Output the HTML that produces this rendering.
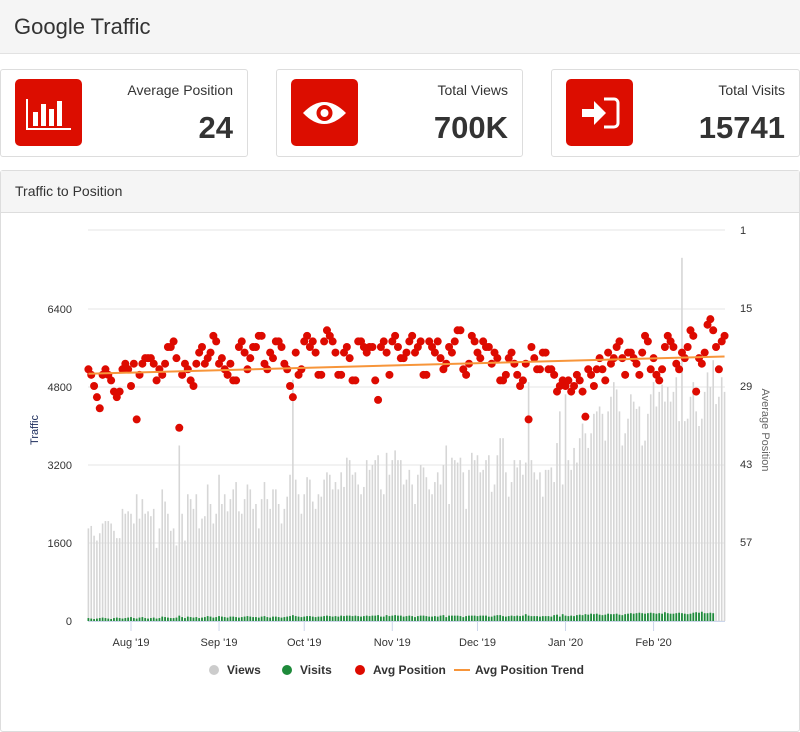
<!DOCTYPE html>
<html><head><meta charset="utf-8"><style>
body{margin:0;width:800px;height:725px;background:#fff;font-family:"Liberation Sans",sans-serif;position:relative;overflow:hidden}
.hdr{position:absolute;left:0;top:0;width:800px;height:53px;background:#f5f5f5;border-bottom:1px solid #e2e2e2}
.hdr span{position:absolute;left:14px;top:14px;font-size:22px;color:#333}
.card{position:absolute;top:69px;height:86px;background:#fff;border:1px solid #ddd;border-radius:3px}
.ico{position:absolute;left:14px;top:9px;width:67px;height:67px;background:#dc0d00;border-radius:5px}
.lbl{position:absolute;right:14px;top:12px;font-size:14px;color:#333}
.num{position:absolute;right:14px;top:40px;font-size:31px;font-weight:bold;color:#333}
.panel{position:absolute;left:0;top:170px;width:798px;height:560px;border:1px solid #ddd;border-radius:3px}
.ph{position:absolute;left:0;top:0;width:798px;height:41px;background:#f5f5f5;border-bottom:1px solid #ddd}
.ph span{position:absolute;left:14px;top:12px;font-size:14px;color:#333}
svg{position:absolute;left:0;top:0}
</style></head><body>
<div class="hdr"><span>Google Traffic</span></div>
<div class="card" style="left:0;width:246px">
 <div class="ico"><svg width="67" height="67"><g fill="#fff"><rect x="18" y="33" width="5" height="14"/><rect x="26" y="25" width="5" height="22"/><rect x="34" y="30" width="5" height="17"/><rect x="42" y="22" width="5" height="25"/><rect x="11" y="20" width="2" height="31"/><rect x="11" y="49" width="45" height="2"/></g></svg></div>
 <div class="lbl">Average Position</div>
 <div class="num">24</div>
</div>
<div class="card" style="left:276px;width:245px">
 <div class="ico"><svg width="67" height="67"><path d="M12 34 Q33 12 55 34 Q33 56 12 34Z" fill="#fff"/><circle cx="33.5" cy="34" r="8" fill="#dc0d00"/><circle cx="33.5" cy="34" r="4" fill="#fff"/></svg></div>
 <div class="lbl">Total Views</div>
 <div class="num">700K</div>
</div>
<div class="card" style="left:551px;width:247px">
 <div class="ico"><svg width="67" height="67"><path d="M16 30h12v-8l12 12-12 12v-8H16z" fill="#fff"/><path d="M38 20h10a4 4 0 0 1 4 4v20a4 4 0 0 1-4 4H38" fill="none" stroke="#fff" stroke-width="3"/></svg></div>
 <div class="lbl">Total Visits</div>
 <div class="num">15741</div>
</div>
<div class="panel"><div class="ph"><span>Traffic to Position</span></div></div>
<svg id="chart" width="800" height="725"></svg>
<script>
const views=[1900,1950,1750,1650,1800,2000,2050,2050,2000,1850,1700,1700,2300,2200,2250,
2200,2000,2600,2100,2500,2200,2250,2150,2300,1500,1900,2700,2450,2200,1850,1900,1550,3600,2200,1650,2600,2500,2300,2600,1900,2100,2150,2800,2400,2000,2200,
3000,2400,2600,2250,2500,2700,2850,2250,2200,2500,2800,2700,2300,2400,1900,2500,2850,2500,2300,2700,2700,2400,2000,2300,2550,3000,4950,2900,2600,2200,
2600,2950,2900,2450,2300,2600,2550,2900,3050,3000,2700,2850,2700,3050,2750,3350,3300,3000,3050,2800,2600,2750,3300,3100,3200,3300,3400,2700,2600,3450,3000,
3300,3500,3300,3300,2800,2900,3100,2800,2400,3000,3200,3150,2950,2700,2600,2850,3050,2800,3200,3600,2400,3350,3300,3250,3350,3050,2300,3100,3450,3300,
3400,3050,3100,3300,3400,2650,2800,3400,3750,3750,3050,2550,2850,3300,3150,3300,3000,3250,4900,3300,3050,2900,3050,2550,3100,3100,3150,2850,3650,4300,2800,
4650,3300,3100,3550,3250,3750,4050,3850,3550,3850,4250,4300,4400,4250,3700,4300,4600,4900,4750,4300,3600,3850,4150,4650,4500,4350,4400,3600,3700,4250,4650,
4900,4400,4700,4850,4500,4800,4500,4700,5000,4100,7450,4100,4150,4600,4900,4300,4000,4150,4700,5100,4800,5350,4450,4600,5000,4700];
const visits=[60,50,40,50,60,70,60,50,40,60,70,60,50,60,70,80,60,50,70,80,60,50,60,70,50,60,90,80,70,60,60,70,110,80,60,90,80,70,80,60,70,80,100,90,70,80,100,90,80,70,90,90,80,70,80,90,100,90,80,80,70,90,100,80,70,90,90,80,70,80,90,100,120,100,90,80,90,100,100,90,80,90,90,100,110,100,90,100,90,110,100,110,110,100,110,100,90,100,110,100,110,110,120,90,90,120,100,110,120,110,110,90,100,110,100,80,100,110,110,100,90,90,100,90,110,120,80,110,110,110,110,100,80,100,110,110,110,100,110,110,110,90,90,110,120,120,100,90,100,110,100,110,100,110,140,110,100,100,100,90,100,100,100,90,120,130,90,140,110,100,110,100,120,130,120,140,130,150,140,150,130,120,130,150,140,140,150,130,120,140,150,160,150,160,170,160,150,160,170,160,150,160,150,180,160,150,150,160,170,160,150,140,150,170,180,170,190,160,160,170,160];
const positions=[26,27,29,31,33,27,26,27,28,30,31,30,26,25,26,
29,25,35,27,25,24,24,24,25,28,26,27,25,22,22,21,24,36.5,27,25,26,28,29,25,23,22,25,24,23,20,21,
25,24,26,27,25,28,28,22,21,23,26,24,22,22,20,20,25,26,23,24,21,21,22,25,26,29,31,23,27,26,
21,20,22,21,23,27,27,21,19,20,21,23,27,27,23,22,24,28,28,21,21,22,23,22,22,28,31.5,22,21,23,27,
21,20,22,24,24,23,21,20,23,22,21,27,27,21,22,23,21,24,26,25,22,23,21,19,19,26,27,25,20,21,
23,24,21,22,22,25,23,24,28,28,27,24,23,25,27,29,28,25,35,22,24,26,26,23,23,26,26,27,30,29,28,
29,28,30,29,27,28,30,34.5,26,27,29,26,24,26,28,23,25,24,22,21,24,27,23,23,24,25,27,23,20,21,26,
24,27,28,26,22,20,21,22,25,26,23,24,22,19,20,30,24,25,23,18,17,19,22,26,21,20];
const trend=[26.8,23.7];
const leftTicks=[0,1600,3200,4800,6400];
const rightTicks=[1,15,29,43,57];
const monthLabels=["Aug '19","Sep '19","Oct '19","Nov '19","Dec '19","Jan '20","Feb '20"];
const monthDayIndex=[15,46,76,107,137,168,199];
const N=225,X0=88.4,DX=2.84;
const xs=i=>X0+i*DX;
const yL=v=>621-v*(78/1600);
const yR=p=>230+(p-1)*(78/14);
const svg=document.getElementById('chart');const NS='http://www.w3.org/2000/svg';
function mk(t,a,txt){const e=document.createElementNS(NS,t);for(const k in a)e.setAttribute(k,a[k]);if(txt!=null)e.textContent=txt;svg.appendChild(e);return e;}
// grid
[230,...leftTicks.map(yL)].forEach(y=>{const g=mk('line',{x1:88,x2:725,y1:y,y2:y,stroke:'#e6e6e6','stroke-width':1});

});
leftTicks.forEach(v=>{const t=mk('text',{x:72,y:yL(v)+4,'text-anchor':'end','font-size':11,fill:'#333'},v);

});
rightTicks.forEach(p=>{const t=mk('text',{x:740,y:yR(p)+4,'font-size':11,fill:'#333'},p);

});
let r1=mk('text',{x:744,y:yR(71)+4,'font-size':11,fill:'#333'},'');
// views bars
views.forEach((v,i)=>{const r=mk('rect',{x:xs(i)-0.8,y:yL(v),width:1.6,height:621-yL(v),fill:'#d6d6d6'});

});
visits.forEach((v,i)=>{const r=mk('rect',{x:xs(i)-0.9,y:yL(v),width:1.8,height:621-yL(v),fill:'#1e8a3a'});

});
// axis baseline & ticks
const ax=mk('line',{x1:88,x2:725,y1:621.5,y2:621.5,stroke:'#ccd6eb'});


monthLabels.forEach((m,k)=>{const x=xs(monthDayIndex[k]);
const tk=mk('line',{x1:x,x2:x,y1:621,y2:631,stroke:'#ccd6eb'});


const t=mk('text',{x:x,y:646,'text-anchor':'middle','font-size':11,fill:'#333'},m);

});
positions.forEach((p,i)=>{const c=mk('circle',{cx:xs(i),cy:yR(p),r:4,fill:'#dd0a00'});

});
const tl=mk('line',{x1:xs(0),x2:xs(N-1),y1:yR(trend[0]),y2:yR(trend[1]),stroke:'#f7953a','stroke-width':2});


const yt=mk('text',{x:0,y:0,'font-size':11,fill:'#1a2a5a',transform:'translate(38,430) rotate(-90)','text-anchor':'middle'},'Traffic');


const yt2=mk('text',{x:0,y:0,'font-size':11,fill:'#666',transform:'translate(762,430) rotate(90)','text-anchor':'middle'},'Average Position');


// legend
const leg=[['Views','#ccc',214,'dot'],['Visits','#1e8a3a',287,'dot'],['Avg Position','#dd0a00',360,'dot'],['Avg Position Trend','#f7953a',462,'line']];
leg.forEach(l=>{let m;
if(l[3]=='dot')m=mk('circle',{cx:l[2],cy:670,r:5,fill:l[1]});else m=mk('line',{x1:l[2]-8,x2:l[2]+8,y1:670,y2:670,stroke:l[1],'stroke-width':2});


const t=mk('text',{x:l[2]+13,y:674,'font-size':12,'font-weight':'bold',fill:'#333'},l[0]);

});
</script>
</body></html>
